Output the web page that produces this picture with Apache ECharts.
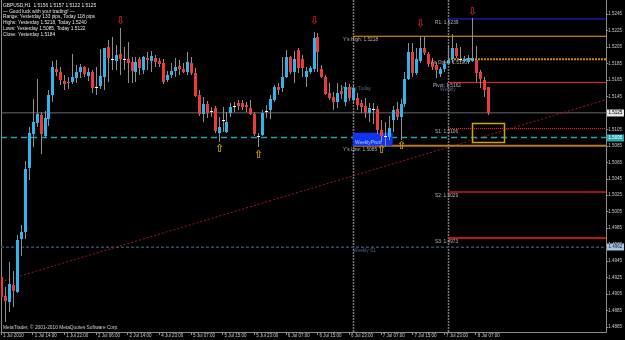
<!DOCTYPE html>
<html><head><meta charset="utf-8">
<script src="https://cdn.jsdelivr.net/npm/echarts@6/dist/echarts.min.js"></script>
<style>html,body{margin:0;padding:0;background:#000}#c{width:625px;height:340px}</style>
</head><body><div id="c"></div>
<script>
// ---------- DATA ----------
const opens = [
1.4926,1.4903,1.4895,1.4916,1.4908,1.4972,1.4980,1.5058,1.5099,1.5113,
1.5122,1.5097,1.5117,1.5147,1.5178,1.5175,1.5164,1.5162,1.5162,1.5167,
1.5175,1.5181,1.5170,1.5175,1.5156,1.5158,1.5168,1.5205,1.5190,1.5188,
1.5196,1.5190,1.5190,1.5187,1.5175,1.5190,1.5177,1.5192,1.5188,1.5192,
1.5188,1.5186,1.5165,1.5171,1.5176,1.5182,1.5178,1.5175,1.5186,1.5173,
1.5147,1.5124,1.5136,1.5127,1.5131,1.5100,1.5116,1.5102,1.5125,1.5133,
1.5137,1.5137,1.5134,1.5131,1.5124,1.5097,1.5098,1.5127,1.5128,1.5141,
1.5156,1.5155,1.5168,1.5193,1.5175,1.5201,1.5190,1.5168,1.5175,1.5178,
1.5217,1.5178,1.5168,1.5149,1.5144,1.5138,1.5151,1.5138,1.5156,1.5141,
1.5143,1.5137,1.5133,1.5125,1.5130,1.5130,1.5104,1.5097,1.5096,1.5116,
1.5130,1.5120,1.5136,1.5166,1.5199,1.5173,1.5188,1.5204,1.5196,1.5187,
1.5183,1.5172,1.5178,1.5185,1.5190,1.5204,1.5190,1.5188,1.5187,1.5188,
1.5189,1.5175,1.5165,1.5156];
const highs = [
1.4929,1.4914,1.4944,1.4933,1.4977,1.4989,1.5066,1.5108,1.5142,1.5166,
1.5126,1.5127,1.5153,1.5188,1.5189,1.5181,1.5171,1.5168,1.5196,1.5183,
1.5184,1.5182,1.5179,1.5177,1.5181,1.5203,1.5204,1.5213,1.5217,1.5207,
1.5228,1.5205,1.5211,1.5193,1.5193,1.5193,1.5194,1.5199,1.5200,1.5195,
1.5192,1.5190,1.5176,1.5186,1.5192,1.5189,1.5186,1.5199,1.5193,1.5179,
1.5153,1.5144,1.5139,1.5132,1.5133,1.5120,1.5132,1.5126,1.5137,1.5138,
1.5141,1.5141,1.5138,1.5141,1.5126,1.5100,1.5128,1.5134,1.5147,1.5159,
1.5161,1.5193,1.5201,1.5194,1.5200,1.5204,1.5195,1.5181,1.5182,1.5223,
1.5222,1.5183,1.5171,1.5161,1.5150,1.5161,1.5159,1.5162,1.5160,1.5159,
1.5149,1.5141,1.5143,1.5137,1.5137,1.5133,1.5116,1.5114,1.5121,1.5133,
1.5138,1.5142,1.5175,1.5210,1.5210,1.5204,1.5218,1.5217,1.5199,1.5192,
1.5187,1.5181,1.5189,1.5207,1.5221,1.5210,1.5205,1.5194,1.5195,1.5240,
1.5206,1.5177,1.5168,1.5157];
const lows = [
1.4874,1.4871,1.4883,1.4889,1.4906,1.4951,1.4972,1.5043,1.5083,1.5108,
1.5075,1.5096,1.5109,1.5138,1.5170,1.5159,1.5153,1.5154,1.5160,1.5161,
1.5167,1.5168,1.5164,1.5149,1.5147,1.5154,1.5153,1.5162,1.5177,1.5177,
1.5171,1.5177,1.5161,1.5161,1.5162,1.5171,1.5172,1.5177,1.5175,1.5181,
1.5181,1.5160,1.5162,1.5167,1.5168,1.5171,1.5173,1.5171,1.5171,1.5144,
1.5121,1.5114,1.5119,1.5120,1.5100,1.5090,1.5102,1.5100,1.5120,1.5126,
1.5128,1.5128,1.5126,1.5122,1.5097,1.5083,1.5097,1.5119,1.5117,1.5138,
1.5147,1.5150,1.5167,1.5172,1.5161,1.5173,1.5168,1.5156,1.5172,1.5175,
1.5175,1.5167,1.5147,1.5141,1.5128,1.5131,1.5142,1.5133,1.5139,1.5136,
1.5128,1.5125,1.5119,1.5114,1.5111,1.5099,1.5090,1.5085,1.5092,1.5102,
1.5116,1.5092,1.5132,1.5165,1.5168,1.5171,1.5186,1.5195,1.5181,1.5177,
1.5167,1.5168,1.5175,1.5183,1.5186,1.5192,1.5187,1.5187,1.5184,1.5187,
1.5162,1.5155,1.5144,1.5122];
const closes = [
1.4901,1.4897,1.4917,1.4909,1.4971,1.4980,1.5057,1.5100,1.5114,1.5124,
1.5099,1.5119,1.5147,1.5181,1.5175,1.5165,1.5160,1.5161,1.5168,1.5175,
1.5181,1.5172,1.5175,1.5155,1.5156,1.5170,1.5204,1.5192,1.5190,1.5195,
1.5190,1.5190,1.5186,1.5176,1.5187,1.5179,1.5193,1.5189,1.5194,1.5187,
1.5184,1.5162,1.5171,1.5176,1.5181,1.5178,1.5175,1.5187,1.5173,1.5145,
1.5124,1.5136,1.5125,1.5127,1.5103,1.5108,1.5116,1.5114,1.5132,1.5133,
1.5133,1.5132,1.5132,1.5124,1.5099,1.5097,1.5125,1.5127,1.5142,1.5156,
1.5153,1.5168,1.5193,1.5175,1.5190,1.5179,1.5179,1.5176,1.5179,1.5216,
1.5199,1.5168,1.5148,1.5143,1.5138,1.5149,1.5148,1.5156,1.5143,1.5155,
1.5134,1.5132,1.5125,1.5131,1.5130,1.5104,1.5097,1.5097,1.5107,1.5128,
1.5120,1.5136,1.5166,1.5199,1.5173,1.5190,1.5204,1.5198,1.5184,1.5181,
1.5177,1.5178,1.5184,1.5189,1.5204,1.5194,1.5190,1.5190,1.5192,1.5192,
1.5173,1.5166,1.5153,1.5125];

// hourly bars per day: [day, first hour, last hour]
const dayHours = [["1 Jul",6,23],["2 Jul",0,21],["4 Jul",23,23],["5 Jul",0,23],["6 Jul",0,23],["7 Jul",0,23],["8 Jul",0,10]];
const firstLabel = "1 Jul 2010";
const futureSlots = 30;
const priceTicks = [1.5245,1.5225,1.5205,1.5185,1.5165,1.5145,1.5125,1.5105,1.5085,1.5065,1.5045,1.5025,1.5005,1.4985,1.4965,1.4945,1.4925,1.4905,1.4885,1.4865];

// pivot / yesterday levels
const levelNames  = ["R1: 1.5239","Y's High: 1.5218","Y's Open: 1.5190","Pivot: 1.5162","S1: 1.5106","Y's Low: 1.5085","S2: 1.5029","S3: 1.4973"];
const levelValues = [1.5239,1.5218,1.5190,1.5162,1.5106,1.5085,1.5029,1.4973];
const levelStarts = [113,89,113,113,113,89,113,113];

const bidPrice = 1.5125;
const weeklyPivot = 1.5095;
const weeklyS1 = 1.4962;
const trendIdx = [0,153];
const trendVals = [1.4920,1.5141];
const separators = [89,113];
const boxIdx = [119,127];
const boxVals = [1.5113,1.5090];
const fractalDnIdx = [30,79,106,119];
const fractalDnVal = [1.5236,1.5236,1.5233,1.5247];
const fractalUpIdx = [55,65,96,101];
const fractalUpVal = [1.5081,1.5074,1.5080,1.5084];
const tagValues = [1.5125,1.5095,1.4962];
const noteTexts = ["Weekly Today","Weekly","Weekly S1"];
const noteIdx = [85.5,111.3,89.4];
const noteVals = [1.5154,1.5153,1.4958];
const wpBoxIdx = [88.6,98.5];
const wpBoxVals = [1.5101,1.5085];
const infoLines = ["GBPUSD,H1  1.5156 1.5157 1.5122 1.5125","\u2014 Good luck with your trading! \u2014","Range: Yesterday 133 pips, Today 118 pips","Highs: Yesterday 1.5218, Today 1.5240","Lows: Yesterday 1.5085, Today 1.5122","Close: Yesterday 1.5184"];
const copyright = "MetaTrader, \u00a9 2001-2010 MetaQuotes Software Corp.";

// ---------- BUILD ----------
const categories = [];
dayHours.forEach(([d,a,b]) => { for (let h=a; h<=b; h++) categories.push(d+" "+String(h).padStart(2,"0")+":00"); });
for (let k=1;k<=futureSlots;k++) categories.push("+"+k+"h");
const LAST = categories.length-1;
const yMin = 1.4859, yMax = 1.5262;
const FONT = '"Liberation Sans"';
const labelInterval = (i) => i % 8 === 0 && i <= 120;

const levelStyles = [
 {c:'#2424ff',w:1,dash:'solid',dx:-13},
 {c:'#ffa000',w:1,dash:'solid',dx:-10},
 {c:'#d88800',w:2,dash:[2,1],dx:-18},
 {c:'#ff2a2a',w:1,dash:'solid',dx:-15},
 {c:'#ff1a1a',w:1.2,dash:[1,1],dx:-13},
 {c:'#b87818',w:2,dash:'solid',dx:-10},
 {c:'#a01010',w:2,dash:'solid',dx:-13},
 {c:'#ff1a1a',w:1.5,dash:'solid',dx:-13}
];

function seg(x0,y0,x1,y1,color,width,dash,z){
  return {type:'line',data:[[x0,y0],[x1,y1]],symbol:'none',silent:true,
    lineStyle:{color:color,width:width,type:dash||'solid'},z:z||2,animation:false};
}

const series = [];
series.push(seg(0,bidPrice,LAST,bidPrice,'#6a6a6a',1,'solid',1));
series.push(seg(0,weeklyPivot,LAST,weeklyPivot,'#1ea6b0',1.5,[6,4],2));
series.push(seg(0,weeklyS1,LAST,weeklyS1,'#2c4c6c',1.5,[3,2],2));
series.push(seg(trendIdx[0],trendVals[0],trendIdx[1],trendVals[1],'#a81818',1,[2,2],2));
levelValues.forEach((v,k)=>{
  const s = levelStyles[k];
  series.push(seg(levelStarts[k],v,LAST,v,s.c,s.w,s.dash,3));
});

// separators
series.push({type:'custom',silent:true,z:2,data:separators.map(i=>[i,yMax]),
  renderItem:(p,api)=>{
    const c = api.coord([api.value(0),yMax]);
    const b = api.coord([api.value(0),yMin]);
    const x = Math.round(c[0])+0.5;
    return {type:'line',shape:{x1:x,y1:c[1],x2:x,y2:b[1]},style:{stroke:'#7a7a7a',lineWidth:1.5,lineDash:[2,1]}};
  }});

// weekly pivot box + notes
series.push({type:'custom',silent:true,z:4,clip:true,data:[[wpBoxIdx[0],wpBoxVals[0],wpBoxIdx[1],wpBoxVals[1]]],
  renderItem:(p,api)=>{
    const a = api.coord([api.value(0),api.value(1)]);
    const b = api.coord([api.value(2),api.value(3)]);
    return {type:'group',children:[
      {type:'rect',shape:{x:a[0],y:a[1],width:b[0]-a[0],height:b[1]-a[1]},style:{fill:'#1034f0'}},
      {type:'text',x:a[0]+2,y:b[1]-1,style:{text:'WeeklyPivot',fill:'#a8c8ff',font:'4.8px '+FONT,verticalAlign:'bottom'}}
    ]};
  }});
const noteColors = ['#3f7878','#4a6688','#46668a'];
series.push({type:'custom',silent:true,z:4,data:noteIdx.map((i,k)=>[i,noteVals[k]]),
  renderItem:(p,api)=>{
    const c = api.coord([api.value(0),api.value(1)]);
    return {type:'text',x:c[0],y:c[1],style:{text:noteTexts[p.dataIndex],fill:noteColors[p.dataIndex],font:'4.8px '+FONT,verticalAlign:'middle'}};
  }});

// yellow rectangle
series.push({type:'custom',silent:true,z:4,data:[[boxIdx[0],boxVals[0],boxIdx[1],boxVals[1]]],
  renderItem:(p,api)=>{
    const a = api.coord([api.value(0),api.value(1)]);
    const b = api.coord([api.value(2),api.value(3)]);
    return {type:'rect',shape:{x:Math.round(a[0])+0.5,y:Math.round(a[1])+0.5,width:Math.round(b[0]-a[0]),height:Math.round(b[1]-a[1])},
      style:{fill:'none',stroke:'#d0a400',lineWidth:1.5}};
  }});

// candles
const BULL='#30b4ee', BEAR='#ee3a3a', WICK='#8e8e8e';
series.push({type:'custom',z:5,clip:true,silent:true,
  data: opens.map((o,i)=>[i,o,closes[i],lows[i],highs[i]]),
  renderItem:(p,api)=>{
    const i=api.value(0), o=api.value(1), c=api.value(2), l=api.value(3), h=api.value(4);
    const pH=api.coord([i,h]), pL=api.coord([i,l]), pO=api.coord([i,o]), pC=api.coord([i,c]);
    const xr = Math.round(pH[0]);
    const x = xr+0.5;
    const ch=[{type:'line',shape:{x1:x,y1:Math.round(pH[1]),x2:x,y2:Math.round(pL[1])},style:{stroke:WICK,lineWidth:1}}];
    if (Math.abs(o-c) < 0.00005){
      const y=Math.round(pO[1])+0.5;
      ch.push({type:'line',shape:{x1:xr-1,y1:y,x2:xr+2,y2:y},style:{stroke:'#ffffff',lineWidth:1}});
    } else {
      const top=Math.round(Math.min(pO[1],pC[1])), bot=Math.round(Math.max(pO[1],pC[1]));
      ch.push({type:'rect',shape:{x:xr-1,y:top,width:3,height:Math.max(1,bot-top)},style:{fill:c>o?BULL:BEAR}});
    }
    return {type:'group',children:ch};
  }});

// level labels
series.push({type:'custom',silent:true,z:6,data:levelValues.map((v,k)=>[levelStarts[k],v]),
  renderItem:(p,api)=>{
    const c=api.coord([api.value(0),api.value(1)]);
    return {type:'text',x:c[0]+levelStyles[p.dataIndex].dx,y:c[1]+1,
      style:{text:levelNames[p.dataIndex],fill:'#b4b4b4',font:'4.8px '+FONT,verticalAlign:'top'}};
  }});

// fractal arrows
function arrowSeries(idx,vals,glyph,color){
  return {type:'custom',silent:true,z:6,data:idx.map((i,k)=>[i,vals[k]]),
    renderItem:(p,api)=>{
      const c=api.coord([api.value(0),api.value(1)]);
      return {type:'text',x:Math.round(c[0])+0.5,y:c[1],style:{text:glyph,fill:color,font:'bold 11px "DejaVu Sans"',align:'center',verticalAlign:'middle'}};
    }};
}
series.push(arrowSeries(fractalDnIdx,fractalDnVal,'\u21e9','#c41818'));
series.push(arrowSeries(fractalUpIdx,fractalUpVal,'\u21e7','#c8a000'));

// price tags on the right axis
const tagStyles=[{bg:'#e4e4e4',fg:'#000000'},{bg:'#28aab4',fg:'#ffffff'},{bg:'#a8c2de',fg:'#10203a'}];
series.push({type:'custom',silent:true,z:10,clip:false,data:tagValues.map(v=>[LAST,v]),
  renderItem:(p,api)=>{
    const c=api.coord([api.value(0),api.value(1)]);
    const s=tagStyles[p.dataIndex];
    const x=Math.round(c[0])+1, y=Math.round(c[1]);
    return {type:'group',children:[
      {type:'rect',shape:{x:x,y:y-3.5,width:17,height:7},style:{fill:s.bg}},
      {type:'text',x:x+1.5,y:y,style:{text:api.value(1).toFixed(4),fill:s.fg,font:'4.5px '+FONT,verticalAlign:'middle'}}
    ]};
  }});

const chart = echarts.init(document.getElementById('c'),null,{renderer:'canvas'});
chart.setOption({
  backgroundColor:'#000000',
  animation:false,
  textStyle:{fontFamily:'Liberation Sans'},
  grid:{left:1,right:18,top:0,bottom:8,containLabel:false},
  xAxis:{type:'category',data:categories,boundaryGap:false,
    axisLine:{show:true,lineStyle:{color:'#8c8c8c',width:1}},
    axisTick:{show:true,length:3,interval:labelInterval,lineStyle:{color:'#8c8c8c'}},
    axisLabel:{interval:labelInterval,formatter:(v,i)=>i===0?firstLabel:v,color:'#c8c8c8',fontSize:4.5,margin:1,align:'left',padding:[0,0,0,2]},
    splitLine:{show:false}},
  yAxis:[
    {type:'value',position:'right',min:yMin,max:yMax,
     axisLine:{show:true,lineStyle:{color:'#8c8c8c'}},
     axisTick:{show:true,length:2,customValues:priceTicks,lineStyle:{color:'#8c8c8c'}},
     axisLabel:{customValues:priceTicks,formatter:v=>v.toFixed(4),color:'#c8c8c8',fontSize:4.5,margin:2},
     splitLine:{show:false}},
    {type:'value',position:'left',min:yMin,max:yMax,
     axisLine:{show:true,lineStyle:{color:'#8c8c8c'}},axisTick:{show:false},axisLabel:{show:false},splitLine:{show:false}}
  ],
  graphic: infoLines.map((t,k)=>({type:'text',left:3,top:3+k*5.8,silent:true,
      style:{text:t,fill:'#e6e6e6',font:'4.8px '+FONT}})).concat([
      {type:'text',left:3,top:325,silent:true,style:{text:copyright,fill:'#d0d0d0',font:'4.8px '+FONT}}]),
  series: series
});
</script>
</body></html>
